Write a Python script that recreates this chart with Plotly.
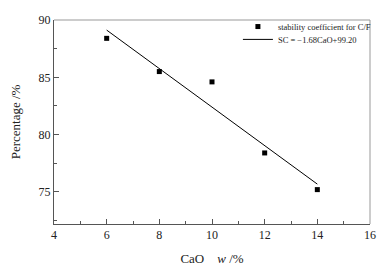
import plotly.graph_objects as go

cao = [6, 8, 10, 12, 14]
sc = [88.4, 85.5, 84.6, 78.4, 75.2]
fit_x = [6, 14]
fit_y = [89.12, 75.68]

font = "Liberation Serif, Times New Roman, serif"

fig = go.Figure()
fig.add_trace(go.Scatter(x=cao, y=sc, mode="markers", name="stability coefficient for C/F",
                         marker=dict(symbol="square", size=5, color="black"), legend="legend"))
fig.add_trace(go.Scatter(x=fit_x, y=fit_y, mode="lines", name="SC = \u22121.68CaO+99.20",
                         line=dict(color="black", width=1), legend="legend2"))

axis_common = dict(showgrid=False, zeroline=False, ticks="inside", showline=True,
                   linecolor="#555", linewidth=1, tickcolor="#555", ticklen=5,
                   automargin=False,
                   tickfont=dict(family=font, size=12, color="#222"))

fig.update_xaxes(range=[4, 16], dtick=2, tick0=4,
                 minor=dict(dtick=1, ticks="inside", ticklen=3, tickcolor="#555"),
                 title=dict(text="CaO\u00a0\u00a0\u00a0\u00a0<i>w</i> /%", font=dict(family=font, size=13, color="#222")),
                 **axis_common)
fig.update_yaxes(range=[72.2, 90], dtick=5, tick0=75,
                 minor=dict(dtick=2.5, ticks="inside", ticklen=3, tickcolor="#555"),
                 title=dict(text="Percentage /%", font=dict(family=font, size=13, color="#222")),
                 **axis_common)

fig.add_shape(type="line", xref="paper", yref="paper", x0=0, x1=1, y0=1, y1=1,
              line=dict(color="#999", width=1))
fig.add_shape(type="line", xref="paper", yref="paper", x0=1, x1=1, y0=0, y1=1,
              line=dict(color="#999", width=1))

leg = dict(xanchor="left", yanchor="top", bgcolor="rgba(0,0,0,0)",
           font=dict(family=font, size=8.5, color="#222"), itemwidth=30)
fig.update_layout(
    width=388, height=266,
    margin=dict(l=54, r=18, t=17, b=42),
    plot_bgcolor="white", paper_bgcolor="white",
    font=dict(family=font, color="#222"),
    showlegend=True,
    legend=dict(x=0.582, y=1.039, **leg),
    legend2=dict(x=0.582, y=0.976, **leg),
)

fig.write_html("out.html", config={"displayModeBar": False},
               post_script="document.body.style.margin='0px';")
